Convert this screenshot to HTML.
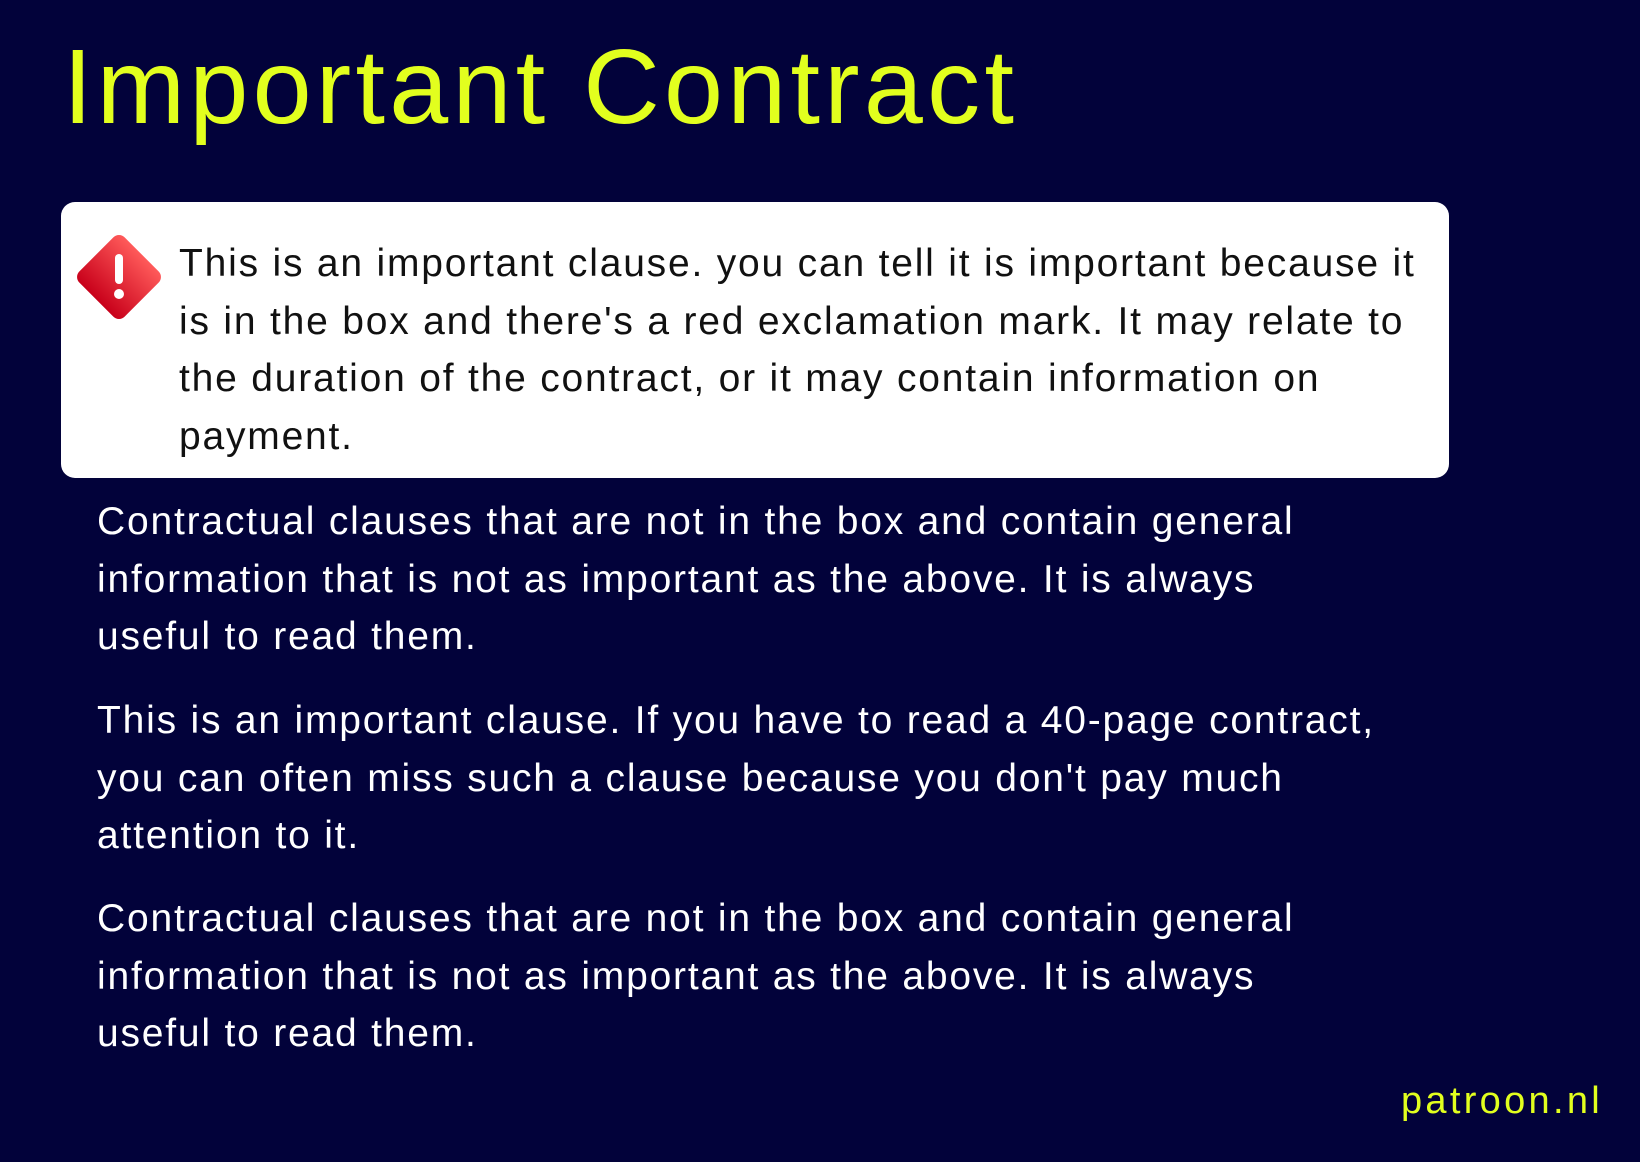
<!DOCTYPE html>
<html><head><meta charset="utf-8"><style>
html,body{margin:0;padding:0}
body{width:1640px;height:1162px;background:#02023a;position:relative;overflow:hidden;font-family:"Liberation Sans",sans-serif}
.t{position:absolute;white-space:nowrap}
#title{left:63px;top:37px;font-size:106px;line-height:100px;color:#e2ff1e;letter-spacing:4.3px}
#box{position:absolute;left:61px;top:202px;width:1388px;height:276px;background:#fff;border-radius:14px}
.p{position:absolute;font-size:39px;line-height:57.5px;white-space:nowrap;letter-spacing:1.8px}
#boxtext{left:179px;top:235px;color:#111}
.w{color:#fff;left:97px}
#brand{right:37px;top:1082px;font-size:38px;line-height:38px;color:#e2ff1e;letter-spacing:3.3px}
</style></head><body>
<div id="title" class="t">Important Contract</div>
<div id="box"></div>
<svg style="position:absolute;left:72px;top:230px" width="94" height="94" viewBox="0 0 94 94">
<defs><linearGradient id="g" x1="0" y1="0" x2="0" y2="1"><stop offset="0" stop-color="#ff5a5a"/><stop offset="1" stop-color="#c8001a"/></linearGradient></defs>
<rect x="15" y="15" width="64" height="64" rx="8" transform="rotate(45 47 47)" fill="url(#g)"/>
<rect x="43" y="24" width="8" height="30" rx="4" fill="#fff"/>
<circle cx="47" cy="64" r="5" fill="#fff"/>
</svg>
<div id="boxtext" class="p">This is an important clause. you can tell it is important because it<br>is in the box and there's a red exclamation mark. It may relate to<br>the duration of the contract, or it may contain information on<br>payment.</div>
<div class="p w" style="top:493px">Contractual clauses that are not in the box and contain general<br>information that is not as important as the above. It is always<br>useful to read them.</div>
<div class="p w" style="top:692px">This is an important clause. If you have to read a 40-page contract,<br>you can often miss such a clause because you don't pay much<br>attention to it.</div>
<div class="p w" style="top:890px">Contractual clauses that are not in the box and contain general<br>information that is not as important as the above. It is always<br>useful to read them.</div>
<div id="brand" class="t">patroon.nl</div>
</body></html>
